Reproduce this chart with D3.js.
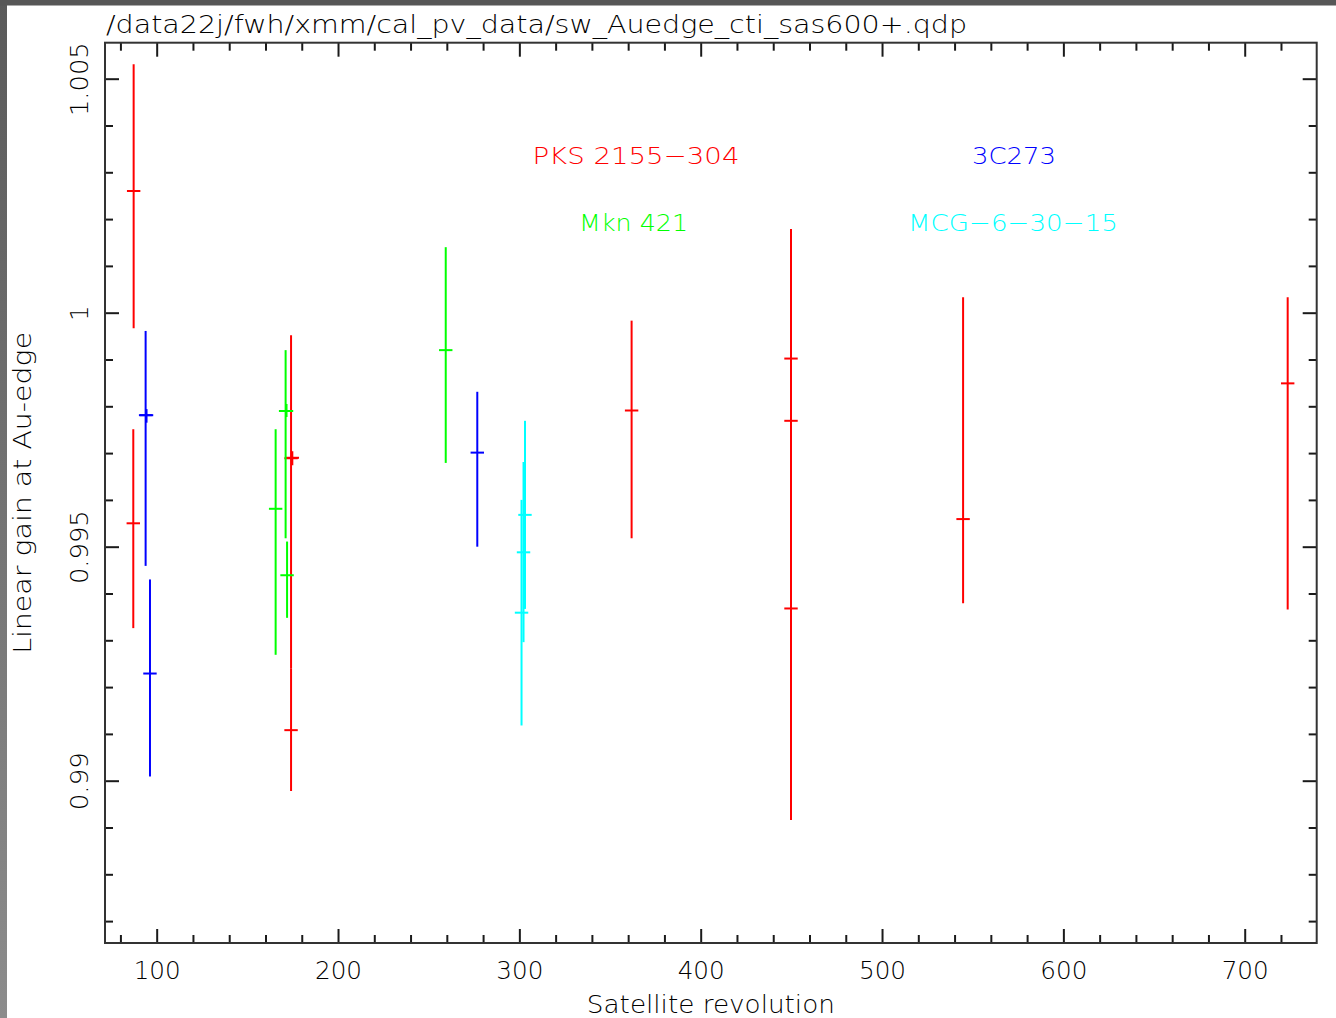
<!DOCTYPE html>
<html><head><meta charset="utf-8">
<script src="https://cdn.jsdelivr.net/npm/d3@7"></script>
<style>
html,body{margin:0;padding:0;background:#fff;}
svg{display:block;}
text{font-family:"DejaVu Sans","Liberation Sans",sans-serif;font-weight:200;}
</style></head>
<body>
<svg id="chart" width="1336" height="1018"></svg>
<script>
// ---------------- DATA ----------------
const titleText = "/data22j/fwh/xmm/cal_pv_data/sw_Auedge_cti_sas600+.qdp";
const xLabel = "Satellite revolution";
const yLabel = "Linear gain at Au-edge";
const xMajorTicks = [100, 200, 300, 400, 500, 600, 700];
const yMajorTicks = [0.99, 0.995, 1, 1.005];
const yTickLabels = ["0.99", "0.995", "1", "1.005"];
const revErr = 3.7;

// PKS 2155-304 (red)
const pksRev  = [87.3, 87.1, 174.1, 174.1, 174.8, 361.9, 449.8, 449.8, 449.8, 544.7, 723.7];
const pksGain = [1.00260, 0.99550, 0.99689, 0.99108, 0.99690, 0.99791, 0.99902, 0.99769, 0.99368, 0.99559, 0.99849];
const pksLo   = [0.99967, 0.99326, 0.99240, 0.98978, 0.99674, 0.99518, 0.99628, 0.99469, 0.98916, 0.99379, 0.99366];
const pksHi   = [1.00531, 0.99751, 0.99952, 0.99240, 0.99704, 0.99983, 1.00179, 1.00068, 0.99822, 1.00033, 1.00033];

// Mkn 421 (green)
const mknRev  = [165.6, 171.1, 171.6, 171.9, 259.4];
const mknGain = [0.99581, 0.99790, 0.99790, 0.99439, 0.99920];
const mknLo   = [0.99269, 0.99518, 0.99777, 0.99348, 0.99679];
const mknHi   = [0.99751, 0.99920, 0.99805, 0.99511, 1.00140];

// 3C273 (blue)
const c3Rev  = [93.9, 94.4, 96.3, 276.8];
const c3Gain = [0.99781, 0.99781, 0.99229, 0.99701];
const c3Lo   = [0.99459, 0.99765, 0.99009, 0.99500];
const c3Hi   = [0.99961, 0.99794, 0.99430, 0.99831];

// MCG-6-30-15 (cyan)
const mcgRev  = [303.1, 302.3, 301.2];
const mcgGain = [0.99568, 0.99488, 0.99359];
const mcgLo   = [0.99367, 0.99296, 0.99118];
const mcgHi   = [0.99769, 0.99681, 0.99600];

// annotation labels (data coordinates)
const annText = ["PKS 2155\u2212304", "Mkn 421", "3C273", "MCG\u22126\u221230\u221215"];
const annRev  = [364.3, 363.0, 572.8, 572.2];
const annGain = [1.00317, 1.00175, 1.00317, 1.00175];

// ---------------- LAYOUT ----------------
const svg = d3.select("#chart");
const W = 1336, H = 1018;
const pL = 105, pR = 1316.7, pT = 42.7, pB = 943;

// decorative window frame bands
const defs = svg.append("defs");
const lg = defs.append("linearGradient").attr("id","lg").attr("x1",0).attr("y1",0).attr("x2",0).attr("y2",1);
lg.append("stop").attr("offset","0").attr("stop-color","#5a5a5a");
lg.append("stop").attr("offset","1").attr("stop-color","#8c8c8c");
svg.append("rect").attr("x",0).attr("y",0).attr("width",7).attr("height",H).attr("fill","url(#lg)");
svg.append("rect").attr("x",0).attr("y",0).attr("width",W).attr("height",5.5).attr("fill","#575757");

const x = d3.scaleLinear().domain([71.5, 739.7]).range([pL, pR]);
const y = d3.scaleLinear().domain([0.986532, 1.005769]).range([pB, pT]);

const xMinor = d3.range(80, 740, 20).filter(v => v % 100 !== 0);
const yMinor = d3.range(0, 20).map(i => +(0.987 + i * 0.001).toFixed(3)).filter(v => v <= 1.0057 && Math.round(v*1000) % 5 !== 0);

const tickColor = "#1a1a1a";
function styleAxis(g){
  g.select(".domain").remove();
  g.selectAll("line").attr("stroke", tickColor).attr("stroke-width", 2);
  g.attr("font-family", null);
}

// bottom
svg.append("g").attr("transform",`translate(0,${pB})`)
  .call(d3.axisBottom(x).tickValues(xMajorTicks).tickSize(-14).tickFormat(d3.format("d")))
  .call(styleAxis)
  .call(g => g.selectAll("text").attr("y", 36).attr("dy", 0)
      .attr("font-size", 24).attr("fill", "#000")
      .attr("textLength", 47).attr("lengthAdjust", "spacingAndGlyphs"));
svg.append("g").attr("transform",`translate(0,${pB})`)
  .call(d3.axisBottom(x).tickValues(xMinor).tickSize(-8).tickFormat(""))
  .call(styleAxis);
// top
svg.append("g").attr("transform",`translate(0,${pT})`)
  .call(d3.axisTop(x).tickValues(xMajorTicks).tickSize(-14).tickFormat(""))
  .call(styleAxis);
svg.append("g").attr("transform",`translate(0,${pT})`)
  .call(d3.axisTop(x).tickValues(xMinor).tickSize(-8).tickFormat(""))
  .call(styleAxis);
// left
function yLen(s){ let w=0; for(const c of s){ w += (c === ".") ? 11 : 15.7; } return w; }
svg.append("g").attr("transform",`translate(${pL},0)`)
  .call(d3.axisLeft(y).tickValues(yMajorTicks).tickSize(-14).tickFormat((d,i) => yTickLabels[i]))
  .call(styleAxis)
  .call(g => g.selectAll("text")
      .attr("x", 0).attr("y", 0).attr("dy", 0)
      .attr("transform", "translate(-17,0) rotate(-90)")
      .attr("text-anchor", "middle")
      .attr("font-size", 24).attr("fill", "#000")
      .attr("textLength", d => yLen(yTickLabels[yMajorTicks.indexOf(d)]))
      .attr("lengthAdjust", "spacingAndGlyphs"));
svg.append("g").attr("transform",`translate(${pL},0)`)
  .call(d3.axisLeft(y).tickValues(yMinor).tickSize(-8).tickFormat(""))
  .call(styleAxis);
// right
svg.append("g").attr("transform",`translate(${pR},0)`)
  .call(d3.axisRight(y).tickValues(yMajorTicks).tickSize(-14).tickFormat(""))
  .call(styleAxis);
svg.append("g").attr("transform",`translate(${pR},0)`)
  .call(d3.axisRight(y).tickValues(yMinor).tickSize(-8).tickFormat(""))
  .call(styleAxis);

// frame
svg.append("rect").attr("x", pL).attr("y", pT)
  .attr("width", pR - pL).attr("height", pB - pT)
  .attr("fill", "none").attr("stroke", "#333").attr("stroke-width", 2);

// ---------------- DATA MARKS ----------------
const series = [
  {rev: pksRev, gain: pksGain, lo: pksLo, hi: pksHi, color: "#ff0000"},
  {rev: mknRev, gain: mknGain, lo: mknLo, hi: mknHi, color: "#00ff00"},
  {rev: c3Rev,  gain: c3Gain,  lo: c3Lo,  hi: c3Hi,  color: "#0000ff"},
  {rev: mcgRev, gain: mcgGain, lo: mcgLo, hi: mcgHi, color: "#00ffff"}
];
const marks = svg.append("g");
series.forEach(s => {
  const pts = s.rev.map((r, i) => ({r, g: s.gain[i], lo: s.lo[i], hi: s.hi[i]}));
  const g = marks.append("g").attr("stroke", s.color).attr("stroke-width", 2);
  g.selectAll("line.v").data(pts).join("line").attr("class","v")
    .attr("x1", d => x(d.r)).attr("x2", d => x(d.r))
    .attr("y1", d => y(d.hi)).attr("y2", d => y(d.lo));
  g.selectAll("line.h").data(pts).join("line").attr("class","h")
    .attr("x1", d => x(d.r - revErr)).attr("x2", d => x(d.r + revErr))
    .attr("y1", d => y(d.g)).attr("y2", d => y(d.g));
});

// ---------------- TEXT ----------------
const annColors = ["#ff0000", "#00ff00", "#0000ff", "#00ffff"];
const annWidths = [207, 109, 84, 210];
svg.append("g").selectAll("text").data(annText).join("text")
  .attr("x", (d,i) => x(annRev[i])).attr("y", (d,i) => y(annGain[i]))
  .attr("text-anchor", "middle").attr("font-size", 23.5)
  .attr("fill", (d,i) => annColors[i])
  .attr("textLength", (d,i) => annWidths[i]).attr("lengthAdjust", "spacingAndGlyphs")
  .text(d => d);

svg.append("text").attr("x", 106).attr("y", 32.5)
  .attr("font-size", 24).attr("fill", "#000")
  .attr("textLength", 861).attr("lengthAdjust", "spacingAndGlyphs")
  .text(titleText);

svg.append("text").attr("x", (pL + pR) / 2).attr("y", 1013)
  .attr("text-anchor", "middle").attr("font-size", 24).attr("fill", "#000")
  .attr("textLength", 248).attr("lengthAdjust", "spacingAndGlyphs")
  .text(xLabel);

svg.append("text")
  .attr("transform", `translate(31,${(pT + pB) / 2}) rotate(-90)`)
  .attr("text-anchor", "middle").attr("font-size", 24).attr("fill", "#000")
  .attr("textLength", 322).attr("lengthAdjust", "spacingAndGlyphs")
  .text(yLabel);
</script>
</body></html>
